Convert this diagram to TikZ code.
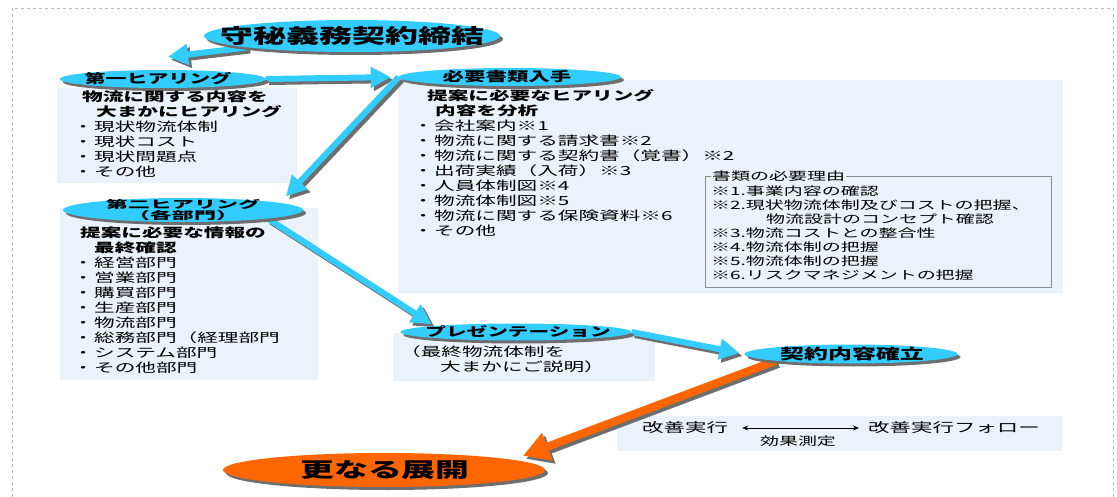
\documentclass[tikz,border=0pt]{standalone}
\usepackage{fontspec}
\newfontfamily\jp[FakeStretch=1.65]{Noto Sans CJK JP}
\newfontfamily\jpwide[FakeStretch=2.1]{Noto Sans CJK JP}
\usetikzlibrary{shapes.geometric,shadows,arrows.meta}

\pgfdeclarelayer{back}
\pgfsetlayers{back,main}

\definecolor{skyfill}{HTML}{33CCFF}
\definecolor{orangefill}{HTML}{FF6600}
\definecolor{panelblue}{HTML}{EBF2F9}
\definecolor{shadowgray}{HTML}{6E6E6E}
\definecolor{framegray}{HTML}{8C8C8C}

% bullet: narrow dot, text starts 14pt to the right
\newcommand\bul{\makebox[14pt][l]{\makebox[6pt]{・}}}

\tikzset{
  ell/.style={ellipse, inner sep=0pt,
    drop shadow={shadow xshift=3pt, shadow yshift=-3pt, fill=shadowgray, opacity=1}},
  skyell/.style={ell, fill=skyfill},
  orangeell/.style={ell, fill=orangefill},
  elltext/.style={inner sep=0pt, font=\jp\bfseries\fontsize{#1}{#1}\selectfont},
  boxtext/.style={anchor=north west, align=left, inner sep=0pt, font=\jp\fontsize{12.5}{15}\selectfont},
  reasontext/.style={anchor=north west, align=left, inner sep=0pt, font=\jp\fontsize{11.5}{14}\selectfont},
  skyarrow/.style={line width=6pt, skyfill, -{Triangle[length=20pt,width=20pt]}},
  orangearrow/.style={line width=8pt, orangefill, -{Triangle[length=26pt,width=28pt]}},
  arrshadow/.style={shadowgray, transform canvas={shift={(3pt,-3pt)}}}
}

\begin{document}
\begin{tikzpicture}[x=1pt, y=-1pt]
  \useasboundingbox (0,0) rectangle (1117,497);
  \draw[framegray!60, dash pattern=on 3pt off 3pt, line width=0.8pt] (12,8) rectangle (1113,530);

  % ellipses
  \node[skyell, minimum width=296pt, minimum height=32pt] (sign) at (352,36) {};
  \node[elltext=20] (signtxt) at (sign) {守秘義務契約締結};

  \node[skyell, minimum width=206pt, minimum height=18pt] (hear1) at (163,79) {};
  \node[elltext=12.7] (hear1txt) at (158,79) {第一ヒアリング};

  \node[skyell, minimum width=222pt, minimum height=18pt] (docs) at (510,77) {};
  \node[elltext=13] (docstxt) at (507,77) {必要書類入手};

  \node[skyell, minimum width=240pt, minimum height=24pt] (hear2) at (183,210) {};
  \node[inner sep=0pt, align=center, font=\jpwide\bfseries\fontsize{10.5}{10}\selectfont] (hear2txt) at (183,210) {第二ヒアリング\\（各部門）};

  \node[skyell, minimum width=231pt, minimum height=17pt] (pres) at (516,332) {};
  \node[elltext=12.5] (prestxt) at (518,332) {プレゼンテーション};

  \node[skyell, minimum width=213pt, minimum height=19pt] (contract) at (851,354) {};
  \node[elltext=14.5] (contracttxt) at (852,354) {契約内容確立};

  \node[orangeell, minimum width=322pt, minimum height=34pt] (further) at (384,470) {};
  \node[elltext=20.5] (furthertxt) at (385,470) {更なる展開};

  % box texts
  \node[boxtext] (t1) at (80,91) {\textbf{\hspace*{2pt}物流に関する内容を}\\
    \textbf{\hspace*{16pt}大まかにヒアリング}\\
    \bul 現状物流体制\\ \bul 現状コスト\\ \bul 現状問題点\\ \bul その他};

  \node[boxtext] (t2) at (420,89) {\textbf{\hspace*{7pt}提案に必要なヒアリング}\\
    \textbf{\hspace*{15pt}内容を分析}\\
    \bul 会社案内※1\\ \bul 物流に関する請求書※2\\ \bul 物流に関する契約書（覚書）※2\\
    \bul 出荷実績（入荷）※3\\ \bul 人員体制図※4\\ \bul 物流体制図※5\\
    \bul 物流に関する保険資料※6\\ \bul その他};

  \node[boxtext] (t3) at (80,227) {\textbf{提案に必要な情報の}\\
    \textbf{\hspace*{14pt}最終確認}\\
    \bul 経営部門\\ \bul 営業部門\\ \bul 購買部門\\ \bul 生産部門\\ \bul 物流部門\\
    \bul 総務部門（経理部門\\ \bul システム部門\\ \bul その他部門};

  \node[boxtext] (t4) at (400,346) {（最終物流体制を\\ \hspace*{40pt}大まかにご説明）};

  \node[reasontext, anchor=west, fill=panelblue, inner xsep=1pt] (reasonhead) at (711,176) {書類の必要理由};
  \node[reasontext] (reasons) at (711,186) {※1.事業内容の確認\\ ※2.現状物流体制及びコストの把握、\\
    \hspace*{55pt}物流設計のコンセプト確認\\ ※3.物流コストとの整合性\\ ※4.物流体制の把握\\
    ※5.物流体制の把握\\ ※6.リスクマネジメントの把握};

  \node[inner sep=0pt, anchor=west, font=\jp\fontsize{13}{15}\selectfont] (impl) at (642,428) {改善実行};
  \node[inner sep=0pt, anchor=west, font=\jp\fontsize{13}{15}\selectfont] (follow) at (868,428) {改善実行フォロー};
  \node[inner sep=0pt, font=\jp\fontsize{11.5}{14}\selectfont] (effect) at (798,441) {効果測定};
  \draw[line width=0.8pt, {Stealth[length=6pt,width=5pt]}-{Stealth[length=6pt,width=5pt]},
    shorten <=14pt, shorten >=9pt] (impl) -- (follow);

  \begin{pgfonlayer}{back}
    % panels
    \fill[panelblue] (57,88) rectangle (297,183);
    \fill[panelblue] (398,80) rectangle (1063,293);
    \fill[panelblue] (60,208) rectangle (318,380);
    \fill[panelblue] (393,333) rectangle (655,381);
    \fill[panelblue] (617,416) rectangle (1062,451);
    \draw[framegray, line width=0.8pt] (705,176) rectangle (1051,287);

    % arrows (shadow first)
    \draw[skyarrow, arrshadow] (sign.south west) -- ([shift={(5pt,13pt)}]hear1.north);
    \draw[skyarrow] (sign.south west) -- ([shift={(5pt,13pt)}]hear1.north);
    \draw[skyarrow, arrshadow, shorten >=8pt] (hear1.east) -- (docs.west);
    \draw[skyarrow, shorten >=8pt] (hear1.east) -- (docs.west);
    \draw[skyarrow, arrshadow] (docs.west) -- ([shift={(18pt,5pt)}]hear2.north east);
    \draw[skyarrow] (docs.west) -- ([shift={(18pt,5pt)}]hear2.north east);
    \draw[skyarrow, arrshadow, shorten >=3pt] (hear2.south east) -- (pres.north west);
    \draw[skyarrow, shorten >=3pt] (hear2.south east) -- (pres.north west);
    \draw[skyarrow, arrshadow, shorten >=5pt] (pres.east) -- (contract.west);
    \draw[skyarrow, shorten >=5pt] (pres.east) -- (contract.west);
    \draw[orangearrow, arrshadow] (contract.south west) -- ([shift={(25pt,2pt)}]further.north east);
    \draw[orangearrow] (contract.south west) -- ([shift={(25pt,2pt)}]further.north east);
  \end{pgfonlayer}
\end{tikzpicture}
\end{document}
